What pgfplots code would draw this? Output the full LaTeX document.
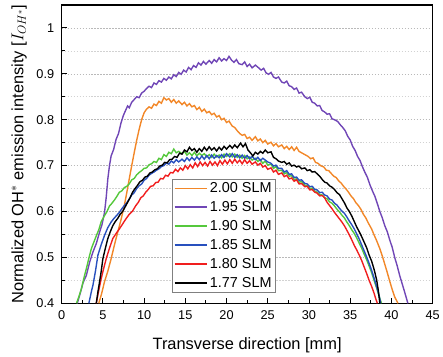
\documentclass[border=0pt]{standalone}
\usepackage{pgfplots}
\pgfplotsset{compat=1.18}
\usepackage{fontspec}
\setmainfont{Liberation Sans}
\definecolor{cOr}{RGB}{242,135,40}
\definecolor{cPu}{RGB}{112,70,182}
\definecolor{cGr}{RGB}{85,200,60}
\definecolor{cBl}{RGB}{40,80,190}
\definecolor{cRe}{RGB}{240,30,30}
\begin{document}
\begin{tikzpicture}
\begin{axis}[
  scale only axis, width=373pt, height=300pt,
  xmin=0, xmax=45, ymin=0.4, ymax=1.05,
  xtick={0,5,...,45}, ytick={0.4,0.5,...,1.0},
  yticklabels={0.4,0.5,0.6,0.7,0.8,0.9,1},
  minor x tick num=1, minor y tick num=1,
  tick pos=left, tick align=inside,
  major tick length=5pt, minor tick length=3pt,
  every tick/.style={black, line width=0.9pt},
  axis line style={line width=1.1pt},
  ymajorgrids, yminorgrids,
  major grid style={dash pattern=on 1.5pt off 1.5pt, gray!55, line width=0.6pt},
  minor grid style={dash pattern=on 1.5pt off 1.5pt, gray!35, line width=0.6pt},
  /pgf/number format/assume math mode=true,
  ticklabel style={font=\fontsize{12.8}{14}\selectfont},
  xticklabel style={yshift=-4pt},
  yticklabel style={xshift=-4pt},
  xlabel={Transverse direction [mm]},
  ylabel={Normalized OH$^{*}$ emission intensity [$I_{OH^*}$]},
  label style={font=\fontsize{16.5}{19}\selectfont},
  xlabel style={yshift=-11pt},
  ylabel style={yshift=3pt},
  legend style={at={(0.297,0.417)}, anchor=north west, draw=gray, line width=0.6pt,
    font=\fontsize{14.5}{16}\selectfont, row sep=3.4pt, inner sep=1.5pt},
  legend cell align=left,
  legend image code/.code={\draw[#1, line width=1.8pt] (0cm,0cm) -- (1.15cm,0cm);},
]
\addplot[cOr, line width=1.4pt] coordinates {
(4.5,0.400)(4.8,0.418)(5.2,0.447)(5.6,0.470)(6.0,0.497)(6.4,0.527)(6.8,0.555)(7.2,0.582)(7.6,0.613)(7.9,0.641)(8.2,0.671)(8.5,0.700)(8.8,0.728)(9.1,0.755)(9.4,0.779)(9.7,0.800)(10.0,0.815)(10.3,0.823)(10.6,0.828)(10.9,0.825)(11.2,0.834)(11.5,0.831)(11.8,0.840)(12.1,0.836)(12.4,0.848)(12.7,0.843)(13.0,0.846)(13.3,0.838)(13.6,0.844)(13.9,0.836)(14.2,0.841)(14.6,0.833)(14.9,0.838)(15.2,0.830)(15.5,0.835)(15.8,0.828)(16.1,0.831)(16.4,0.822)(16.7,0.827)(17.0,0.818)(17.3,0.823)(17.6,0.815)(17.9,0.818)(18.2,0.811)(18.5,0.814)(18.8,0.806)(19.1,0.809)(19.4,0.800)(19.7,0.803)(20.0,0.794)(20.3,0.797)(20.7,0.786)(21.0,0.783)(21.3,0.776)(21.6,0.770)(21.9,0.766)(22.2,0.768)(22.5,0.759)(22.8,0.762)(23.1,0.755)(23.5,0.763)(23.8,0.754)(24.1,0.758)(24.4,0.750)(24.7,0.755)(25.0,0.747)(25.4,0.751)(25.7,0.743)(26.0,0.748)(26.3,0.741)(26.7,0.745)(27.0,0.737)(27.3,0.742)(27.6,0.735)(27.9,0.741)(28.2,0.733)(28.5,0.740)(28.8,0.731)(29.1,0.728)(29.5,0.724)(29.9,0.720)(30.2,0.715)(30.5,0.717)(30.8,0.707)(31.1,0.705)(31.4,0.700)(31.8,0.697)(32.1,0.690)(32.4,0.689)(32.7,0.683)(33.0,0.677)(33.3,0.674)(33.6,0.667)(33.9,0.662)(34.2,0.655)(34.5,0.649)(34.8,0.642)(35.1,0.634)(35.4,0.628)(35.7,0.619)(36.0,0.613)(36.3,0.605)(36.6,0.594)(36.9,0.586)(37.2,0.575)(37.6,0.562)(37.9,0.549)(38.2,0.537)(38.6,0.519)(38.9,0.503)(39.2,0.485)(39.5,0.467)(39.8,0.448)(40.1,0.430)(40.4,0.414)(40.8,0.400)
};
\addlegendentry{2.00 SLM}
\addplot[cPu, line width=1.4pt] coordinates {
(1.9,0.400)(2.3,0.425)(2.6,0.445)(3.0,0.461)(3.4,0.490)(3.8,0.512)(4.2,0.530)(4.6,0.555)(4.9,0.572)(5.2,0.598)(5.4,0.630)(5.6,0.671)(5.8,0.700)(6.0,0.721)(6.3,0.735)(6.6,0.757)(6.9,0.770)(7.2,0.793)(7.5,0.810)(7.8,0.822)(8.0,0.830)(8.2,0.826)(8.5,0.838)(8.8,0.844)(9.1,0.850)(9.4,0.848)(9.7,0.858)(10.0,0.862)(10.3,0.868)(10.6,0.873)(10.9,0.870)(11.2,0.880)(11.5,0.877)(11.8,0.885)(12.1,0.882)(12.4,0.890)(12.7,0.886)(13.0,0.893)(13.3,0.889)(13.6,0.898)(13.9,0.894)(14.2,0.903)(14.5,0.899)(14.8,0.908)(15.1,0.904)(15.4,0.914)(15.7,0.909)(16.0,0.918)(16.3,0.914)(16.6,0.924)(16.9,0.919)(17.2,0.927)(17.5,0.921)(17.9,0.929)(18.2,0.923)(18.5,0.931)(18.8,0.926)(19.1,0.935)(19.4,0.928)(19.7,0.933)(20.0,0.929)(20.3,0.938)(20.6,0.930)(20.9,0.925)(21.2,0.931)(21.5,0.922)(21.9,0.920)(22.2,0.926)(22.5,0.916)(22.8,0.921)(23.1,0.913)(23.5,0.919)(23.9,0.913)(24.2,0.908)(24.5,0.912)(24.8,0.902)(25.1,0.899)(25.4,0.903)(25.7,0.893)(26.0,0.890)(26.3,0.893)(26.7,0.882)(27.0,0.880)(27.3,0.884)(27.6,0.874)(27.9,0.872)(28.2,0.866)(28.5,0.869)(28.8,0.858)(29.1,0.860)(29.5,0.850)(29.8,0.846)(30.1,0.849)(30.4,0.838)(30.7,0.836)(31.0,0.830)(31.3,0.831)(31.6,0.820)(31.9,0.817)(32.2,0.812)(32.5,0.813)(32.8,0.802)(33.1,0.800)(33.5,0.796)(33.8,0.789)(34.1,0.783)(34.4,0.776)(34.7,0.764)(35.0,0.756)(35.3,0.742)(35.6,0.733)(35.9,0.720)(36.2,0.711)(36.5,0.697)(36.8,0.685)(37.1,0.674)(37.4,0.658)(37.7,0.645)(38.0,0.633)(38.3,0.617)(38.6,0.600)(38.9,0.586)(39.2,0.569)(39.5,0.556)(39.8,0.538)(40.1,0.522)(40.4,0.500)(40.7,0.482)(41.0,0.461)(41.3,0.443)(41.6,0.425)(42.0,0.400)
};
\addlegendentry{1.95 SLM}
\addplot[cGr, line width=1.4pt] coordinates {
(1.8,0.400)(2.1,0.415)(2.4,0.432)(2.7,0.455)(3.0,0.476)(3.3,0.498)(3.6,0.519)(3.9,0.533)(4.2,0.547)(4.5,0.560)(4.8,0.578)(5.2,0.591)(5.5,0.600)(5.8,0.612)(6.1,0.618)(6.4,0.625)(6.7,0.633)(7.0,0.642)(7.3,0.645)(7.6,0.652)(7.9,0.655)(8.2,0.660)(8.5,0.669)(8.8,0.672)(9.1,0.680)(9.4,0.685)(9.7,0.689)(10.0,0.694)(10.3,0.695)(10.6,0.702)(10.9,0.704)(11.2,0.709)(11.5,0.707)(11.8,0.716)(12.1,0.713)(12.4,0.724)(12.7,0.720)(13.0,0.729)(13.3,0.726)(13.6,0.736)(13.9,0.728)(14.2,0.731)(14.6,0.726)(14.9,0.731)(15.2,0.723)(15.5,0.728)(15.8,0.722)(16.1,0.729)(16.4,0.721)(16.7,0.727)(17.0,0.722)(17.3,0.726)(17.6,0.719)(17.9,0.724)(18.2,0.718)(18.5,0.725)(18.8,0.719)(19.1,0.723)(19.4,0.717)(19.7,0.725)(20.0,0.720)(20.4,0.726)(20.7,0.719)(21.0,0.725)(21.3,0.718)(21.6,0.723)(21.9,0.716)(22.2,0.722)(22.5,0.715)(22.8,0.719)(23.1,0.712)(23.5,0.716)(23.8,0.709)(24.1,0.713)(24.4,0.705)(24.7,0.710)(25.0,0.701)(25.4,0.703)(25.7,0.694)(26.0,0.698)(26.3,0.689)(26.7,0.690)(27.0,0.682)(27.3,0.685)(27.6,0.677)(27.9,0.678)(28.2,0.670)(28.5,0.671)(28.8,0.664)(29.1,0.665)(29.5,0.657)(29.8,0.656)(30.1,0.650)(30.4,0.651)(30.7,0.644)(31.0,0.642)(31.3,0.637)(31.6,0.636)(31.9,0.630)(32.2,0.628)(32.5,0.621)(32.8,0.618)(33.1,0.612)(33.4,0.605)(33.7,0.599)(34.0,0.592)(34.3,0.586)(34.6,0.577)(34.9,0.569)(35.2,0.560)(35.5,0.552)(35.8,0.542)(36.1,0.531)(36.4,0.520)(36.7,0.507)(37.0,0.495)(37.3,0.481)(37.6,0.467)(37.9,0.450)(38.2,0.434)(38.5,0.416)(38.8,0.400)
};
\addlegendentry{1.90 SLM}
\addplot[cBl, line width=1.4pt] coordinates {
(3.3,0.400)(3.6,0.425)(3.8,0.440)(4.1,0.470)(4.4,0.505)(4.8,0.528)(5.2,0.548)(5.6,0.565)(6.0,0.577)(6.3,0.584)(6.6,0.590)(7.0,0.598)(7.3,0.606)(7.6,0.613)(7.9,0.619)(8.2,0.627)(8.5,0.636)(8.8,0.641)(9.1,0.650)(9.4,0.656)(9.7,0.660)(10.0,0.668)(10.3,0.672)(10.6,0.679)(10.9,0.683)(11.2,0.686)(11.5,0.690)(11.8,0.693)(12.1,0.698)(12.4,0.700)(12.7,0.706)(13.0,0.703)(13.3,0.710)(13.6,0.706)(13.9,0.713)(14.2,0.708)(14.6,0.714)(14.9,0.709)(15.2,0.717)(15.5,0.711)(15.8,0.718)(16.1,0.712)(16.4,0.719)(16.7,0.713)(17.0,0.721)(17.3,0.714)(17.6,0.722)(17.9,0.715)(18.2,0.723)(18.5,0.716)(18.8,0.722)(19.1,0.717)(19.4,0.724)(19.7,0.718)(20.0,0.726)(20.4,0.719)(20.7,0.726)(21.0,0.718)(21.3,0.724)(21.6,0.717)(21.9,0.723)(22.2,0.716)(22.5,0.722)(22.8,0.715)(23.1,0.720)(23.5,0.713)(23.8,0.718)(24.1,0.711)(24.4,0.716)(24.7,0.712)(25.0,0.708)(25.4,0.705)(25.7,0.699)(26.0,0.701)(26.3,0.694)(26.7,0.694)(27.0,0.686)(27.3,0.689)(27.6,0.681)(27.9,0.682)(28.2,0.674)(28.5,0.675)(28.8,0.668)(29.1,0.669)(29.5,0.661)(29.8,0.660)(30.1,0.654)(30.4,0.655)(30.7,0.648)(31.0,0.647)(31.3,0.641)(31.6,0.642)(31.9,0.636)(32.2,0.634)(32.5,0.627)(32.8,0.625)(33.1,0.618)(33.4,0.614)(33.7,0.607)(34.0,0.601)(34.3,0.596)(34.6,0.588)(34.9,0.579)(35.2,0.571)(35.5,0.562)(35.8,0.551)(36.1,0.540)(36.4,0.527)(36.7,0.514)(37.0,0.501)(37.3,0.487)(37.6,0.472)(37.9,0.455)(38.2,0.437)(38.5,0.418)(38.7,0.400)
};
\addlegendentry{1.85 SLM}
\addplot[cRe, line width=1.4pt] coordinates {
(4.2,0.400)(4.5,0.428)(4.8,0.454)(5.1,0.476)(5.4,0.497)(5.8,0.520)(6.2,0.541)(6.6,0.552)(7.0,0.562)(7.4,0.573)(7.8,0.584)(8.2,0.594)(8.6,0.601)(9.0,0.613)(9.3,0.620)(9.6,0.630)(9.9,0.634)(10.2,0.642)(10.5,0.648)(10.8,0.655)(11.1,0.656)(11.4,0.663)(11.7,0.664)(12.0,0.672)(12.3,0.671)(12.6,0.679)(12.9,0.677)(13.2,0.685)(13.5,0.684)(13.8,0.692)(14.1,0.687)(14.4,0.695)(14.7,0.690)(15.0,0.700)(15.3,0.693)(15.6,0.702)(15.9,0.695)(16.2,0.706)(16.5,0.698)(16.8,0.708)(17.1,0.700)(17.4,0.707)(17.7,0.699)(18.0,0.709)(18.3,0.701)(18.6,0.708)(18.9,0.700)(19.2,0.711)(19.5,0.703)(19.8,0.712)(20.1,0.704)(20.4,0.713)(20.7,0.705)(21.0,0.714)(21.3,0.706)(21.6,0.712)(21.9,0.704)(22.2,0.713)(22.5,0.705)(22.8,0.711)(23.1,0.703)(23.5,0.708)(23.8,0.701)(24.1,0.705)(24.4,0.697)(24.7,0.700)(25.0,0.692)(25.4,0.695)(25.7,0.686)(26.0,0.690)(26.3,0.681)(26.7,0.684)(27.0,0.676)(27.3,0.679)(27.6,0.671)(27.9,0.673)(28.2,0.666)(28.5,0.669)(28.8,0.660)(29.1,0.661)(29.5,0.654)(29.8,0.655)(30.1,0.647)(30.4,0.648)(30.7,0.642)(31.0,0.640)(31.3,0.634)(31.6,0.635)(31.9,0.630)(32.2,0.620)(32.5,0.613)(32.8,0.606)(33.1,0.598)(33.4,0.591)(33.7,0.584)(34.0,0.577)(34.3,0.569)(34.6,0.559)(34.9,0.549)(35.2,0.538)(35.5,0.526)(35.8,0.516)(36.1,0.505)(36.4,0.493)(36.7,0.479)(37.0,0.465)(37.3,0.450)(37.6,0.437)(37.9,0.422)(38.1,0.410)(38.3,0.400)
};
\addlegendentry{1.80 SLM}
\addplot[black, line width=1.4pt] coordinates {
(4.2,0.400)(4.4,0.425)(4.6,0.447)(4.8,0.470)(5.0,0.497)(5.3,0.520)(5.6,0.541)(5.9,0.556)(6.2,0.569)(6.5,0.578)(6.8,0.585)(7.1,0.594)(7.4,0.600)(7.7,0.610)(8.0,0.620)(8.3,0.630)(8.6,0.642)(8.9,0.650)(9.2,0.657)(9.5,0.665)(9.8,0.668)(10.1,0.675)(10.4,0.677)(10.7,0.684)(11.0,0.686)(11.3,0.691)(11.6,0.693)(11.9,0.699)(12.2,0.701)(12.5,0.707)(12.8,0.706)(13.1,0.713)(13.4,0.714)(13.7,0.720)(14.0,0.718)(14.3,0.727)(14.6,0.725)(14.9,0.734)(15.2,0.730)(15.5,0.740)(15.8,0.733)(16.1,0.737)(16.4,0.729)(16.7,0.737)(17.0,0.731)(17.3,0.740)(17.6,0.733)(17.9,0.741)(18.2,0.734)(18.5,0.739)(18.8,0.732)(19.1,0.740)(19.4,0.734)(19.7,0.742)(20.0,0.736)(20.4,0.744)(20.7,0.738)(21.0,0.745)(21.3,0.739)(21.7,0.749)(22.0,0.741)(22.3,0.748)(22.6,0.734)(22.9,0.728)(23.2,0.721)(23.5,0.729)(23.8,0.725)(24.1,0.731)(24.4,0.727)(24.7,0.734)(25.0,0.728)(25.4,0.730)(25.7,0.718)(26.0,0.715)(26.3,0.710)(26.7,0.707)(27.0,0.709)(27.3,0.703)(27.6,0.706)(27.9,0.699)(28.2,0.701)(28.5,0.697)(28.8,0.699)(29.1,0.693)(29.5,0.695)(29.8,0.689)(30.1,0.691)(30.4,0.686)(30.7,0.687)(31.0,0.682)(31.3,0.677)(31.6,0.670)(31.9,0.664)(32.2,0.662)(32.5,0.656)(32.8,0.653)(33.1,0.648)(33.4,0.641)(33.7,0.637)(34.0,0.628)(34.3,0.619)(34.6,0.608)(34.9,0.600)(35.2,0.590)(35.5,0.578)(35.8,0.566)(36.1,0.556)(36.4,0.545)(36.7,0.533)(37.0,0.521)(37.3,0.505)(37.6,0.492)(37.9,0.474)(38.2,0.452)(38.4,0.430)(38.6,0.400)
};
\addlegendentry{1.77 SLM}
\end{axis}
\path (current axis.south west) ++(-62pt,-53pt);
\path (current axis.north east) ++(8pt,5pt);
\end{tikzpicture}
\end{document}
